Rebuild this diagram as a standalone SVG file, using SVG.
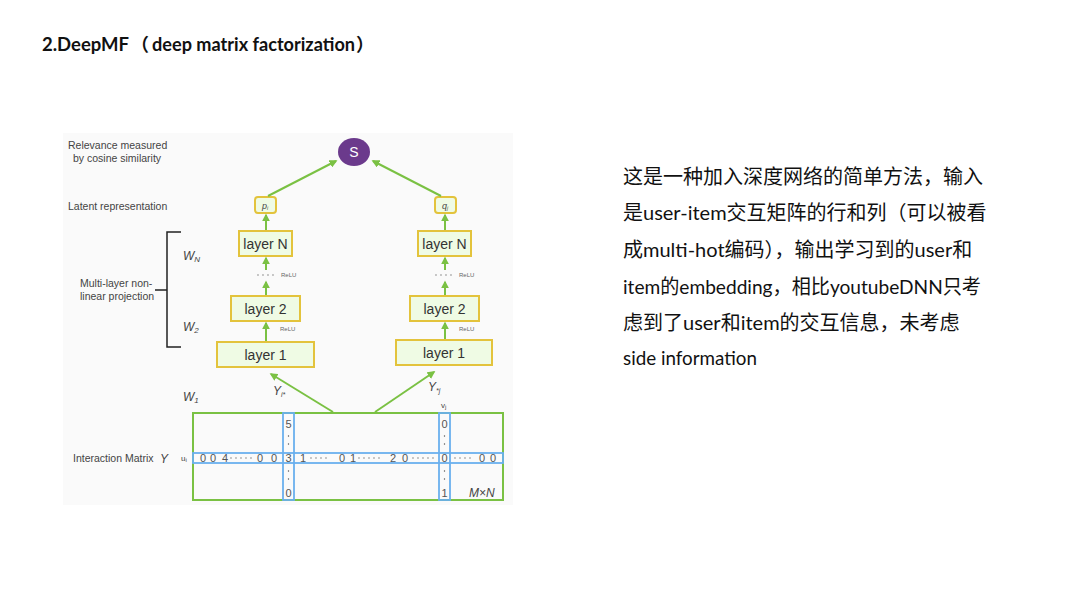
<svg xmlns="http://www.w3.org/2000/svg" width="1080" height="608" viewBox="0 0 1080 608">
<style>
.t{font-family:"Liberation Sans",Arial,sans-serif;fill:#444}
.lbl{font-size:10.5px}
.box{fill:#effbe4;stroke:#e3c33c;stroke-width:2}
.lay{font-family:"Liberation Sans",Arial,sans-serif;font-size:14px;fill:#333;text-anchor:middle}
.relu{font-family:"Liberation Sans",Arial,sans-serif;font-size:6px;fill:#666}
.arr{stroke:#7ac143;stroke-width:2;fill:none;marker-end:url(#ah)}
.it{font-family:"Liberation Sans",Arial,sans-serif;font-style:italic;fill:#444}
.num{font-family:"Liberation Sans",Arial,sans-serif;font-size:11px;fill:#555;text-anchor:middle}
.blue{fill:none;stroke:#6ab0ee;stroke-width:1.8}
.dots{stroke:#666;stroke-width:1.3;stroke-linecap:round;stroke-dasharray:0 5;fill:none}
.vdots{stroke:#555;stroke-width:1.4;stroke-linecap:round;stroke-dasharray:0 8;fill:none}
.body{font-family:Lato,"Noto Sans CJK SC",sans-serif;font-size:20px;fill:#111}
</style>
<defs>
<marker id="ah" viewBox="0 0 10 10" refX="8" refY="5" markerWidth="4" markerHeight="4" orient="auto" markerUnits="strokeWidth">
<path d="M0,0 L10,5 L0,10 z" fill="#7ac143"/>
</marker>
</defs>
<rect width="1080" height="608" fill="#ffffff"/>
<text y="51" style="font-family:Lato,'Noto Sans CJK SC',sans-serif;font-size:18px;font-weight:bold;fill:#111"><tspan x="42" textLength="87" lengthAdjust="spacingAndGlyphs">2.DeepMF</tspan><tspan x="131">（</tspan><tspan x="152" textLength="203" lengthAdjust="spacingAndGlyphs">deep matrix factorization</tspan><tspan x="356">）</tspan></text>

<rect x="63" y="133" width="450" height="372" fill="#fafafa"/>

<g id="labels">
<text class="t lbl" x="68" y="149">Relevance measured</text>
<text class="t lbl" x="73" y="162">by cosine similarity</text>
<text class="t lbl" x="68" y="210">Latent representation</text>
<text class="t lbl" x="80" y="287">Multi-layer non-</text>
<text class="t lbl" x="80" y="300">linear projection</text>
<text class="t lbl" x="73" y="462">Interaction Matrix</text>
<text class="it" x="160" y="463" font-size="12">Y</text>
<text class="it" x="183" y="260" font-size="12">W<tspan font-size="8" dy="2">N</tspan></text>
<text class="it" x="183" y="331" font-size="12">W<tspan font-size="8" dy="2">2</tspan></text>
<text class="it" x="183" y="401" font-size="12">W<tspan font-size="8" dy="2">1</tspan></text>
<text class="it" x="273" y="395" font-size="12">Y<tspan font-size="7" dy="2">i*</tspan></text>
<text class="it" x="428" y="391" font-size="12">Y<tspan font-size="7" dy="2">*j</tspan></text>
<text class="t" x="441" y="408" font-size="8">v<tspan font-size="6" dy="1">j</tspan></text>
<text class="t" x="181" y="461" font-size="8">u<tspan font-size="6" dy="1">i</tspan></text>
<text class="it" x="469" y="497" font-size="12">M×N</text>
</g>

<g id="bracket" fill="none" stroke="#222" stroke-width="1.5">
<path d="M181,232 H167 V347 H181 M155,290 H167"/>
</g>

<g id="S">
<ellipse cx="354" cy="152" rx="16" ry="14" fill="#6b3a8c"/>
<text x="354" y="157" font-family="Liberation Sans,Arial,sans-serif" font-size="14" fill="#fff" text-anchor="middle">S</text>
</g>

<g id="pi">
<rect class="box" x="255" y="197" width="21" height="16" rx="3"/>
<text class="it" x="265" y="209" font-size="9" text-anchor="middle">p<tspan font-size="5" dy="1">i</tspan></text>
</g>
<g id="qj">
<rect class="box" x="435" y="197" width="21" height="16" rx="3"/>
<text class="it" x="445" y="209" font-size="9" text-anchor="middle">q<tspan font-size="5" dy="1">j</tspan></text>
</g>

<g id="layerN-left"><rect class="box" x="239" y="231" width="53" height="25"/><text class="lay" x="265.5" y="249">layer N</text></g>
<g id="layerN-right"><rect class="box" x="418" y="231" width="53" height="25"/><text class="lay" x="444.5" y="249">layer N</text></g>
<g id="layer2-left"><rect class="box" x="231" y="296" width="69" height="25"/><text class="lay" x="265.5" y="314">layer 2</text></g>
<g id="layer2-right"><rect class="box" x="410" y="296" width="69" height="25"/><text class="lay" x="444.5" y="314">layer 2</text></g>
<g id="layer1-left"><rect class="box" x="217" y="342" width="97" height="25"/><text class="lay" x="265.5" y="360">layer 1</text></g>
<g id="layer1-right"><rect class="box" x="396" y="340" width="96" height="25"/><text class="lay" x="444" y="358">layer 1</text></g>

<g id="relu">
<path class="dots" d="M258,275 H278 M436,275 H456"/>
<text class="relu" x="281" y="277">ReLU</text>
<text class="relu" x="459" y="277">ReLU</text>
<text class="relu" x="280" y="331">ReLU</text>
<text class="relu" x="459" y="331">ReLU</text>
</g>

<g id="connectors">
<line class="arr" x1="268" y1="196" x2="336" y2="161"/>
<line class="arr" x1="441" y1="196" x2="373" y2="161"/>
<line class="arr" x1="266" y1="230" x2="266" y2="215"/>
<line class="arr" x1="445" y1="230" x2="445" y2="215"/>
<line class="arr" x1="266" y1="270" x2="266" y2="258"/>
<line class="arr" x1="445" y1="270" x2="445" y2="258"/>
<line class="arr" x1="266" y1="295" x2="266" y2="282"/>
<line class="arr" x1="445" y1="295" x2="445" y2="282"/>
<line class="arr" x1="266" y1="341" x2="266" y2="323"/>
<line class="arr" x1="445" y1="339" x2="445" y2="323"/>
<line class="arr" x1="333" y1="412" x2="271" y2="374"/>
<line class="arr" x1="375" y1="412" x2="434" y2="372"/>
</g>

<g id="matrix">
<rect x="193" y="413" width="310" height="87" fill="none" stroke="#7ac143" stroke-width="2"/>
<rect class="blue" x="283" y="413" width="11" height="87"/>
<rect class="blue" x="439" y="413" width="11" height="87"/>
<rect class="blue" x="193" y="453" width="310" height="10"/>
<path class="dots" d="M231,458 H255 M311,458 H331 M359,458 H383 M413,458 H437 M455,458 H475"/>
<path class="vdots" d="M288.5,436 V445 M288.5,471 V480 M444.5,436 V445 M444.5,471 V480"/>
<g class="num">
<text x="203" y="462">0</text><text x="213" y="462">0</text><text x="225" y="462">4</text>
<text x="260" y="462">0</text><text x="274" y="462">0</text><text x="288.5" y="462">3</text>
<text x="303" y="462">1</text>
<text x="342" y="462">0</text><text x="353" y="462">1</text>
<text x="393" y="462">2</text><text x="405" y="462">0</text>
<text x="444.5" y="462">0</text>
<text x="482" y="462">0</text><text x="493" y="462">0</text>
<text x="288.5" y="428">5</text><text x="288.5" y="497">0</text>
<text x="444.5" y="428">0</text><text x="444.5" y="497">1</text>
</g>
</g>

<g id="description" class="body">
<text x="623" y="184">这是一种加入深度网络的简单方法，输入</text>
<text x="623" y="220">是user-item交互矩阵的行和列（可以被看</text>
<text x="623" y="257">成multi-hot编码），输出学习到的user和</text>
<text x="623" y="294" textLength="358" lengthAdjust="spacingAndGlyphs">item的embedding，相比youtubeDNN只考</text>
<text x="623" y="330">虑到了user和item的交互信息，未考虑</text>
<text x="623" y="365" textLength="134" lengthAdjust="spacingAndGlyphs">side information</text>
</g>
</svg>
